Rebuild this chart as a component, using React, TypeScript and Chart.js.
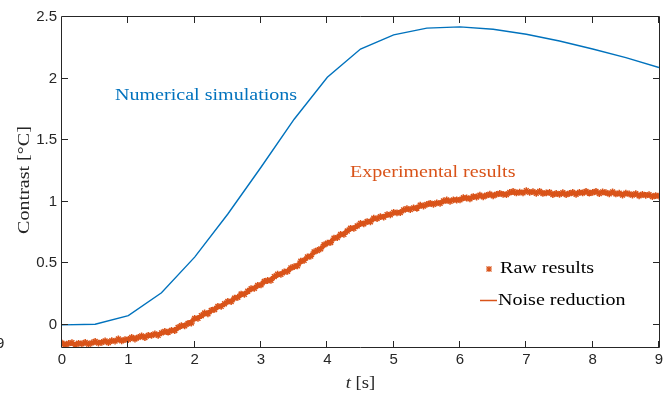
import React, { useEffect, useRef } from "react";
import { Chart, registerables } from "chart.js";

Chart.register(...registerables);

// ---------- data ----------
const xTicks = [0, 1, 2, 3, 4, 5, 6, 7, 8, 9];
const yTicks = [0, 0.5, 1, 1.5, 2, 2.5];

// Numerical simulations (t every 0.5 s)
const simT = [0, 0.5, 1, 1.5, 2, 2.5, 3, 3.5, 4, 4.5, 5, 5.5, 6, 6.5, 7, 7.5, 8, 8.5, 9];
const simC = [0, 0.005, 0.075, 0.26, 0.55, 0.9, 1.28, 1.67, 2.01, 2.24, 2.355, 2.41, 2.42, 2.4, 2.36, 2.305, 2.24, 2.17, 2.09];

// Raw experimental results (t every 0.05 s, from 0 to 9)
const rawC = [
  -0.149, -0.163, -0.151, -0.145, -0.164, -0.150, -0.155, -0.143, -0.157, -0.146, -0.135, -0.149, -0.142, -0.130, -0.145, -0.128, -0.132, -0.115, -0.130, -0.120,
  -0.119, -0.103, -0.115, -0.102, -0.090, -0.103, -0.086, -0.086, -0.073, -0.085, -0.065, -0.053, -0.060, -0.045, -0.046, -0.021, -0.006, -0.008, 0.011, 0.015,
  0.053, 0.053, 0.074, 0.096, 0.090, 0.117, 0.125, 0.150, 0.150, 0.171, 0.191, 0.188, 0.217, 0.223, 0.250, 0.248, 0.273, 0.293, 0.296, 0.321,
  0.324, 0.353, 0.360, 0.362, 0.391, 0.411, 0.410, 0.429, 0.434, 0.463, 0.473, 0.479, 0.517, 0.524, 0.551, 0.558, 0.592, 0.604, 0.617, 0.650,
  0.664, 0.669, 0.704, 0.708, 0.735, 0.735, 0.762, 0.784, 0.784, 0.803, 0.823, 0.820, 0.839, 0.837, 0.867, 0.863, 0.879, 0.875, 0.895, 0.894,
  0.913, 0.909, 0.911, 0.933, 0.944, 0.936, 0.950, 0.947, 0.972, 0.965, 0.978, 0.987, 0.978, 0.991, 0.986, 1.006, 1.014, 1.003, 1.015, 1.014,
  1.015, 1.032, 1.030, 1.023, 1.042, 1.038, 1.053, 1.039, 1.052, 1.061, 1.047, 1.059, 1.068, 1.060, 1.057, 1.075, 1.083, 1.071, 1.078, 1.072,
  1.089, 1.076, 1.082, 1.068, 1.084, 1.067, 1.071, 1.075, 1.057, 1.067, 1.059, 1.074, 1.058, 1.067, 1.075, 1.059, 1.076, 1.071, 1.084, 1.069,
  1.075, 1.084, 1.066, 1.079, 1.073, 1.064, 1.079, 1.063, 1.069, 1.054, 1.070, 1.063, 1.054, 1.066, 1.048, 1.059, 1.052, 1.057, 1.042, 1.050,
  1.045,
];
const rawStep = 0.05;

// Noise reduction (t every 0.25 s)
const nrC = [
  -0.155, -0.152, -0.145, -0.132, -0.116, -0.095, -0.068, -0.027, 0.045, 0.113, 0.184, 0.255, 0.33, 0.4, 0.47, 0.565,
  0.66, 0.745, 0.815, 0.865, 0.906, 0.942, 0.974, 1.0, 1.02, 1.04, 1.055, 1.07, 1.08, 1.072, 1.063, 1.07,
  1.077, 1.07, 1.063, 1.055, 1.045,
];
const nrStep = 0.25;

const BLUE = "#0072BD";
const ORANGE = "#D95319";
const AXIS = "#262626";
const SERIF = "'Liberation Serif', 'Times New Roman', serif";
const SANS = "'Liberation Sans', Arial, sans-serif";
const STRETCH = 1.18;

function drawText(
  ctx: CanvasRenderingContext2D,
  str: string,
  x: number,
  y: number,
  font: string,
  color: string,
  align: "left" | "center" | "right" = "left",
  sx = STRETCH
) {
  ctx.save();
  ctx.font = font;
  ctx.fillStyle = color;
  ctx.textBaseline = "alphabetic";
  const w = ctx.measureText(str).width * sx;
  let x0 = x;
  if (align === "center") x0 = x - w / 2;
  if (align === "right") x0 = x - w;
  ctx.translate(x0, y);
  ctx.scale(sx, 1);
  ctx.textAlign = "left";
  ctx.fillText(str, 0, 0);
  ctx.restore();
}

const overlay = {
  id: "overlay",
  afterDraw(chart: any) {
    const { ctx, chartArea } = chart;
    const { left, right, top, bottom } = chartArea;
    const xs = chart.scales.x;
    const ys = chart.scales.y;
    ctx.save();
    // frame
    ctx.strokeStyle = AXIS;
    ctx.lineWidth = 1;
    ctx.beginPath();
    ctx.rect(Math.round(left) - 0.5, Math.round(top) - 0.5, Math.round(right - left) + 1, Math.round(bottom - top) + 1);
    ctx.stroke();
    // inward ticks
    const tl = 6;
    ctx.beginPath();
    xTicks.forEach((v) => {
      const px = Math.round(xs.getPixelForValue(v)) - 0.5;
      ctx.moveTo(px, bottom);
      ctx.lineTo(px, bottom - tl);
      ctx.moveTo(px, top);
      ctx.lineTo(px, top + tl);
    });
    yTicks.forEach((v) => {
      const py = Math.round(ys.getPixelForValue(v)) - 0.5;
      ctx.moveTo(left, py);
      ctx.lineTo(left + tl, py);
      ctx.moveTo(right, py);
      ctx.lineTo(right - tl, py);
    });
    ctx.stroke();

    // annotations
    drawText(ctx, "Numerical simulations", 115, 100, `17px ${SERIF}`, BLUE);
    drawText(ctx, "Experimental results", 350, 177, `17px ${SERIF}`, ORANGE);

    // legend
    const mx = 489, my = 269;
    ctx.strokeStyle = ORANGE;
    ctx.lineWidth = 1.2;
    ctx.beginPath();
    ctx.moveTo(mx - 2.5, my - 2.5); ctx.lineTo(mx + 2.5, my + 2.5);
    ctx.moveTo(mx - 2.5, my + 2.5); ctx.lineTo(mx + 2.5, my - 2.5);
    ctx.moveTo(mx - 3, my); ctx.lineTo(mx + 3, my);
    ctx.moveTo(mx, my - 3); ctx.lineTo(mx, my + 3);
    ctx.stroke();
    drawText(ctx, "Raw results", 500, 273, `17px ${SERIF}`, "#000");
    ctx.lineWidth = 1.5;
    ctx.beginPath();
    ctx.moveTo(480, 300.5);
    ctx.lineTo(497, 300.5);
    ctx.stroke();
    drawText(ctx, "Noise reduction", 498, 305, `17px ${SERIF}`, "#000");

    // x axis title: t [s]
    {
      ctx.font = `italic 17px ${SERIF}`;
      const wT = ctx.measureText("t").width * 1.1;
      ctx.font = `17px ${SERIF}`;
      const wR = ctx.measureText(" [s]").width * 1.1;
      const cx = (left + right) / 2;
      const x0 = cx - (wT + wR) / 2;
      drawText(ctx, "t", x0, 388, `italic 17px ${SERIF}`, AXIS, "left", 1.1);
      drawText(ctx, " [s]", x0 + wT, 388, `17px ${SERIF}`, AXIS, "left", 1.1);
    }
    // y axis title
    ctx.save();
    ctx.translate(29, (top + bottom) / 2 - 2);
    ctx.rotate(-Math.PI / 2);
    drawText(ctx, "Contrast [\u00B0C]", 0, 0, `17px ${SERIF}`, AXIS, "center");
    ctx.restore();

    // clipped label fragment at the left edge
    drawText(ctx, "9", -4, 348, `15px ${SANS}`, AXIS, "left", 1);
    ctx.restore();
  },
};

export default function App() {
  const ref = useRef<HTMLCanvasElement | null>(null);

  useEffect(() => {
    document.body.style.margin = "0";
    const canvas = ref.current;
    if (!canvas) return;

    const simData = simT.map((t, i) => ({ x: t, y: simC[i] }));
    const rawData = rawC.map((c, i) => ({ x: +(i * rawStep).toFixed(2), y: c }));
    const nrData = nrC.map((c, i) => ({ x: i * nrStep, y: c }));

    const chart = new Chart(canvas, {
      type: "line",
      data: {
        datasets: [
          {
            label: "Numerical simulations",
            data: simData,
            borderColor: BLUE,
            borderWidth: 1.4,
            pointRadius: 0,
            tension: 0,
            fill: false,
          },
          {
            label: "Noise reduction",
            data: nrData,
            borderColor: ORANGE,
            borderWidth: 3.5,
            pointRadius: 0,
            tension: 0.3,
            fill: false,
          },
          {
            label: "Raw results",
            data: rawData,
            showLine: false,
            pointStyle: "star",
            pointRadius: 3.4,
            pointBorderWidth: 1.5,
            pointBorderColor: ORANGE,
            pointBackgroundColor: ORANGE,
            borderColor: ORANGE,
          },
        ],
      },
      options: {
        responsive: false,
        animation: false,
        events: [],
        layout: { padding: { top: 17, right: 12, left: 0, bottom: 0 } },
        plugins: {
          legend: { display: false },
          tooltip: { enabled: false },
        },
        scales: {
          x: {
            type: "linear",
            min: 0,
            max: 9,
            grid: { display: false, drawTicks: false },
            border: { display: false },
            afterBuildTicks: (s: any) => {
              s.ticks = xTicks.map((v) => ({ value: v }));
            },
            afterFit: (s: any) => {
              s.height = 47;
            },
            ticks: {
              padding: 4,
              color: AXIS,
              font: { family: SANS, size: 15 },
              maxRotation: 0,
              autoSkip: false,
              callback: (v: any) => String(v),
            },
          },
          y: {
            type: "linear",
            min: -0.18,
            max: 2.5,
            grid: { display: false, drawTicks: false },
            border: { display: false },
            afterBuildTicks: (s: any) => {
              s.ticks = yTicks.map((v) => ({ value: v }));
            },
            afterFit: (s: any) => {
              s.width = 62;
            },
            ticks: {
              padding: 5,
              color: AXIS,
              font: { family: SANS, size: 15 },
              autoSkip: false,
              callback: (v: any) => String(v),
            },
          },
        },
      },
      plugins: [overlay],
    });

    return () => chart.destroy();
  }, []);

  return <canvas ref={ref} width={671} height={394} style={{ display: "block" }} />;
}
